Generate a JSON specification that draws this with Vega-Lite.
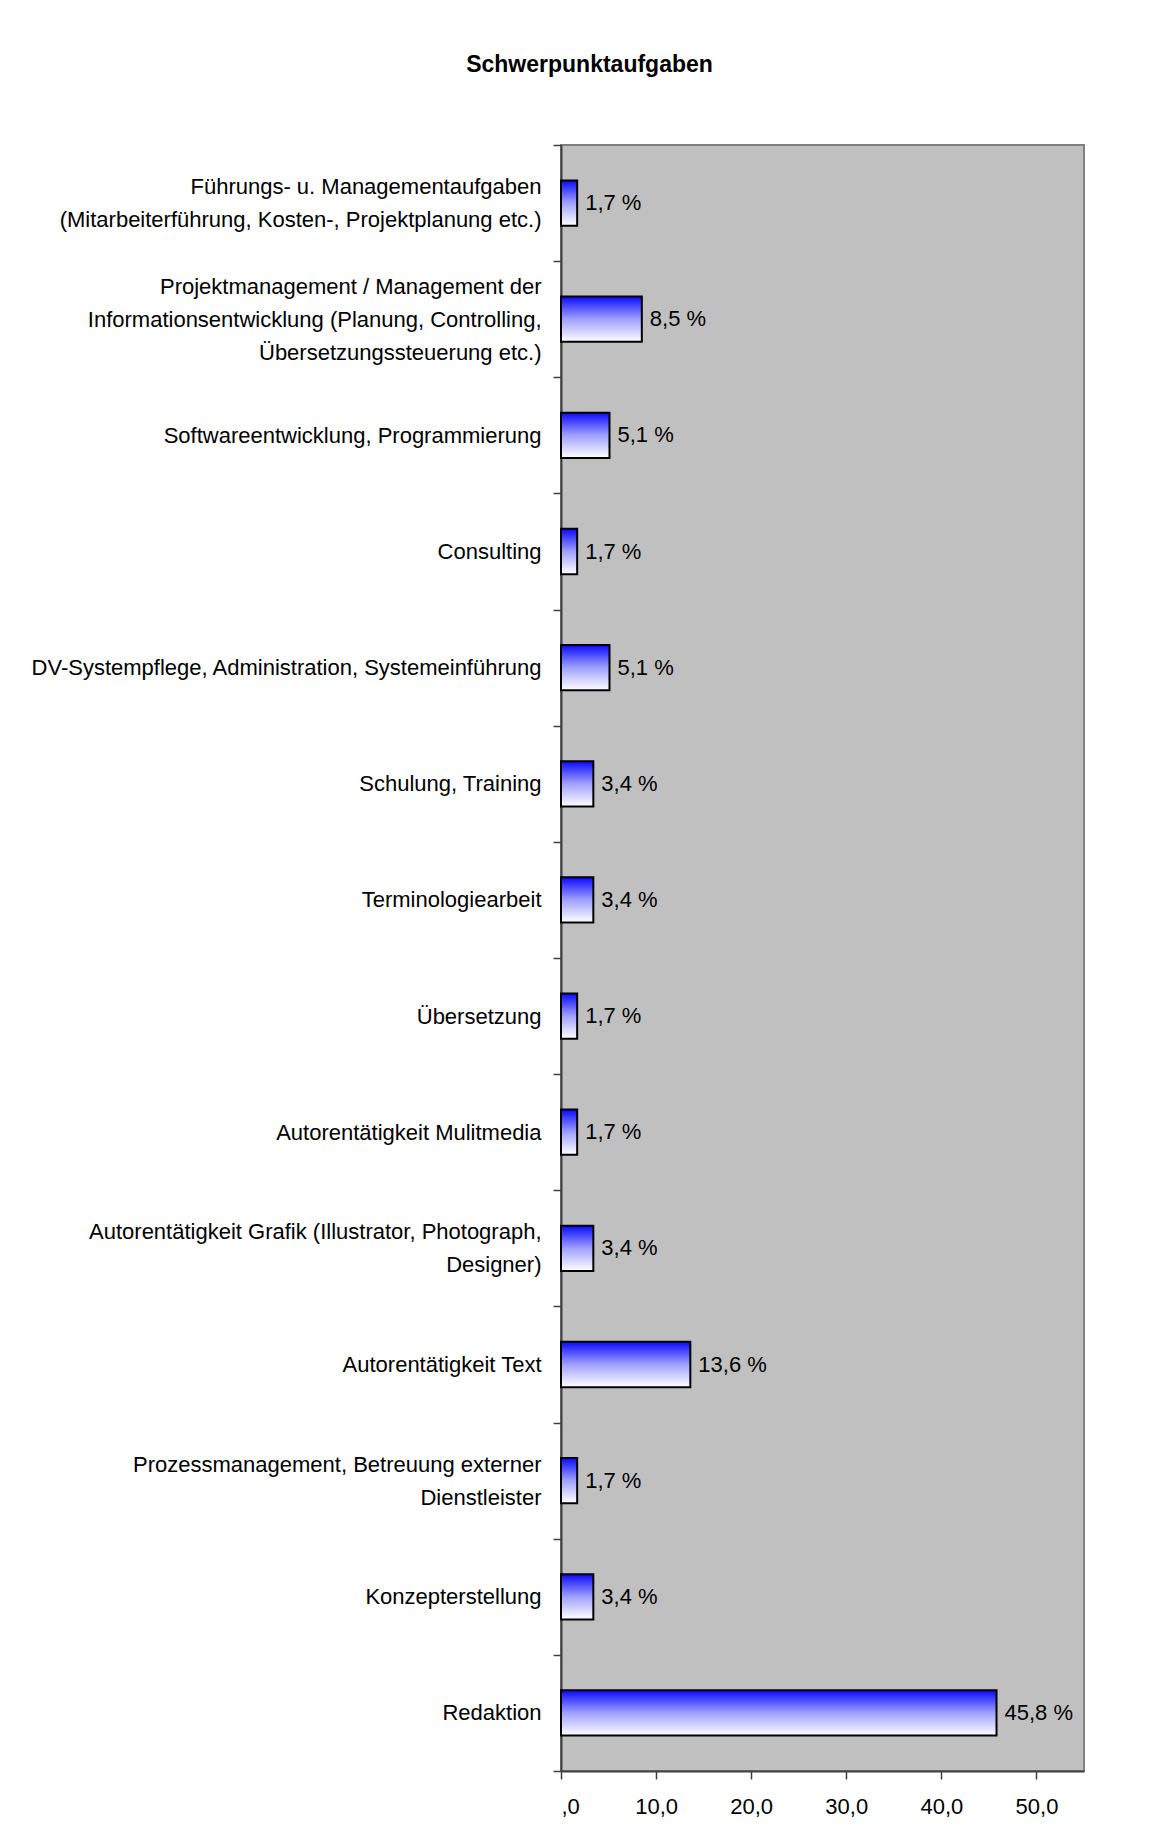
{
  "$schema": "https://vega.github.io/schema/vega-lite/v6.json",
  "autosize": {"type": "none"},
  "width": 523,
  "height": 1626,
  "padding": {"left": 561, "top": 145, "right": 78, "bottom": 74},
  "background": "white",
  "title": {
    "text": "Schwerpunktaufgaben",
    "anchor": "middle",
    "frame": "group",
    "dx": -233,
    "offset": 39,
    "baseline": "alphabetic",
    "font": "Liberation Sans",
    "fontSize": 23,
    "fontWeight": "bold",
    "color": "black"
  },
  "data": {
    "values": [
      {"task": "Führungs- u. Managementaufgaben\n(Mitarbeiterführung, Kosten-, Projektplanung etc.)", "value": 1.7},
      {"task": "Projektmanagement / Management der\nInformationsentwicklung (Planung, Controlling,\nÜbersetzungssteuerung etc.)", "value": 8.5},
      {"task": "Softwareentwicklung, Programmierung", "value": 5.1},
      {"task": "Consulting", "value": 1.7},
      {"task": "DV-Systempflege, Administration, Systemeinführung", "value": 5.1},
      {"task": "Schulung, Training", "value": 3.4},
      {"task": "Terminologiearbeit", "value": 3.4},
      {"task": "Übersetzung", "value": 1.7},
      {"task": "Autorentätigkeit Mulitmedia", "value": 1.7},
      {"task": "Autorentätigkeit Grafik (Illustrator, Photograph,\nDesigner)", "value": 3.4},
      {"task": "Autorentätigkeit Text", "value": 13.6},
      {"task": "Prozessmanagement,  Betreuung externer\nDienstleister", "value": 1.7},
      {"task": "Konzepterstellung", "value": 3.4},
      {"task": "Redaktion", "value": 45.8}
    ]
  },
  "encoding": {
    "y": {
      "field": "task",
      "type": "nominal",
      "sort": null,
      "title": null,
      "scale": {"paddingInner": 0, "paddingOuter": 0},
      "axis": {
        "tickBand": "extent",
        "labelExpr": "split(datum.label, '\\n')",
        "labelOffset": {"expr": "-16.5 * (length(split(datum.label, '\\n')) - 1)"},
        "labelFont": "Liberation Sans",
        "labelFontSize": 22,
        "labelLineHeight": 33,
        "labelColor": "black",
        "labelLimit": 700,
        "labelPadding": 12,
        "tickSize": 8,
        "tickColor": "#404040",
        "tickWidth": 1.5,
        "domainColor": "#404040",
        "domainWidth": 2
      }
    },
    "x": {
      "field": "value",
      "type": "quantitative",
      "title": null,
      "scale": {"domain": [0, 55], "nice": false},
      "axis": {
        "values": [0, 10, 20, 30, 40, 50],
        "labelExpr": "datum.value == 0 ? ',0' : replace(format(datum.value, '.1f'), '.', ',')",
        "labelFont": "Liberation Sans",
        "labelFontSize": 22,
        "labelColor": "black",
        "labelPadding": 17,
        "tickSize": 8,
        "tickColor": "#404040",
        "tickWidth": 1.5,
        "domainColor": "#404040",
        "domainWidth": 2,
        "grid": false
      }
    }
  },
  "layer": [
    {
      "mark": {
        "type": "bar",
        "height": {"band": 0.39},
        "stroke": "black",
        "strokeWidth": 2,
        "fill": {
          "gradient": "linear",
          "x1": 0, "y1": 0, "x2": 0, "y2": 1,
          "stops": [
            {"offset": 0, "color": "#0a0aff"},
            {"offset": 0.5, "color": "#a0a0ff"},
            {"offset": 1, "color": "#ffffff"}
          ]
        }
      }
    },
    {
      "transform": [
        {"calculate": "replace(format(datum.value, '.1f'), '.', ',') + ' %'", "as": "lbl"}
      ],
      "mark": {
        "type": "text",
        "align": "left",
        "baseline": "middle",
        "dx": 8,
        "font": "Liberation Sans",
        "fontSize": 22,
        "color": "black"
      },
      "encoding": {
        "text": {"field": "lbl"}
      }
    }
  ],
  "config": {
    "view": {"fill": "#c0c0c0", "stroke": "#808080", "strokeWidth": 2}
  }
}
